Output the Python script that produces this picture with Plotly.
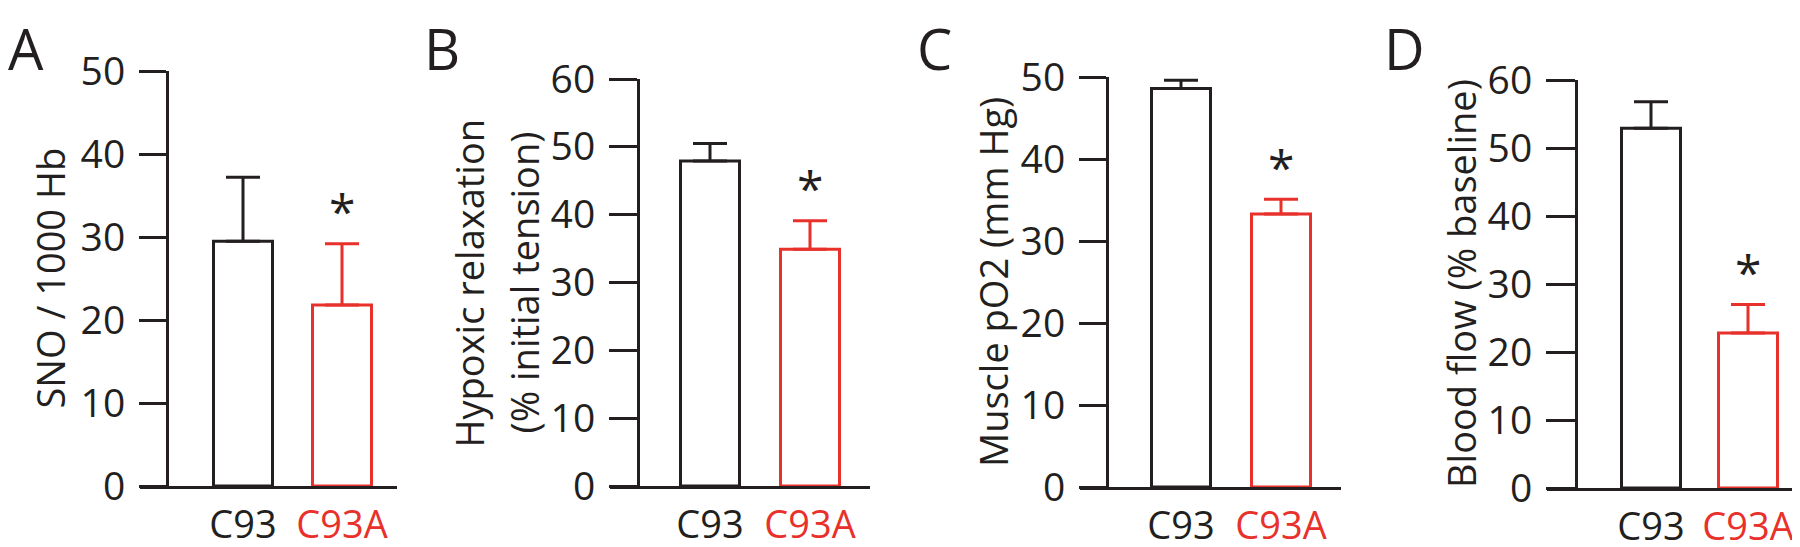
import plotly.graph_objects as go

# data
categories = ["C93", "C93A"]
panel_letters = ["A", "B", "C", "D"]
y_titles = [
    ["SNO / 1000 Hb"],
    ["Hypoxic relaxation", "(% initial tension)"],
    ["Muscle pO2 (mm Hg)"],
    ["Blood flow (% baseline)"],
]
sno_mean = [29.5, 21.8]
sno_sem = [7.7, 7.4]
relax_mean = [47.9, 34.9]
relax_sem = [2.6, 4.2]
po2_mean = [48.6, 33.3]
po2_sem = [1.0, 1.8]
flow_mean = [52.9, 22.8]
flow_sem = [3.9, 4.2]
y_max = [50, 60, 50, 60]
y_tick_step = 10

means = [sno_mean, relax_mean, po2_mean, flow_mean]
sems = [sno_sem, relax_sem, po2_sem, flow_sem]

W, H = 1800, 547
BLACK = "#231f20"
RED = "#e8312b"
FONT = "Open Sans"
bar_colors = [BLACK, RED]

# panel geometry in pixels (tick start, y-axis line, first bar centre, bar spacing, x-axis end, y of 0, y of max)
geo = [
    dict(left=132, axis=159, c0=235, step=99, right=389, y0=478, ytop=63, letter=18, title=[42]),
    dict(left=602, axis=630, c0=702, step=100, right=862, y0=478, ytop=71, letter=434, title=[460, 515]),
    dict(left=1072, axis=1099, c0=1173, step=100, right=1333, y0=479, ytop=69, letter=926, title=[985]),
    dict(left=1539, axis=1568, c0=1643, step=97, right=1798, y0=480, ytop=72, letter=1396, title=[1453]),
]
bar_px = 59

fig = go.Figure()
annotations = []

for i in range(4):
    g = geo[i]
    n = "" if i == 0 else str(i + 1)
    xa, ya = "x" + n, "y" + n
    for j, cat in enumerate(categories):
        fig.add_trace(
            go.Bar(
                x=[cat],
                y=[means[i][j]],
                xaxis=xa,
                yaxis=ya,
                width=bar_px / g["step"],
                marker=dict(color="white", line=dict(color=bar_colors[j], width=3)),
                error_y=dict(
                    type="data",
                    symmetric=False,
                    array=[sems[i][j]],
                    arrayminus=[0],
                    color=bar_colors[j],
                    thickness=3,
                    width=17,
                ),
                showlegend=False,
                hoverinfo="skip",
            )
        )

    # significance star above the C93A error bar
    annotations.append(
        dict(
            x=categories[1],
            y=means[i][1] + sems[i][1],
            xref=xa,
            yref=ya,
            text="*",
            showarrow=False,
            font=dict(family=FONT, size=48, color=BLACK),
            yanchor="middle",
            yshift=33,
        )
    )

    lo = (g["left"] - g["c0"]) / g["step"]
    hi = (g["right"] - g["c0"]) / g["step"]
    fig.update_layout(
        {
            "xaxis" + n: dict(
                domain=[g["left"] / W, g["right"] / W],
                anchor=ya,
                type="category",
                range=[lo, hi],
                showline=True,
                linewidth=3,
                linecolor=BLACK,
                ticks="",
                showgrid=False,
                zeroline=False,
                tickangle=0,
                automargin=False,
                tickvals=categories,
                ticktext=["C93", '<span style="color:%s">C93A</span>' % RED],
                tickfont=dict(family=FONT, size=38, color=BLACK),
                ticklabelstandoff=3,
            ),
            "yaxis" + n: dict(
                domain=[1 - g["y0"] / H, 1 - g["ytop"] / H],
                anchor="free",
                position=g["axis"] / W,
                range=[0, y_max[i]],
                dtick=y_tick_step,
                showline=True,
                linewidth=3,
                linecolor=BLACK,
                ticks="outside",
                ticklen=g["axis"] - g["left"],
                tickwidth=3,
                tickcolor=BLACK,
                showgrid=False,
                zeroline=False,
                automargin=False,
                tickfont=dict(family=FONT, size=39, color=BLACK),
                ticklabelstandoff=6,
            ),
        }
    )

    annotations.append(
        dict(
            x=g["letter"] / W,
            y=1,
            xref="paper",
            yref="paper",
            text=panel_letters[i],
            showarrow=False,
            font=dict(family=FONT, size=56, color=BLACK),
            xanchor="center",
            yanchor="top",
        )
    )
    mid = 1 - (g["y0"] + g["ytop"]) / 2 / H
    for line, tx in zip(y_titles[i], g["title"]):
        annotations.append(
            dict(
                x=tx / W,
                y=mid,
                xref="paper",
                yref="paper",
                text=line,
                textangle=-90,
                showarrow=False,
                font=dict(family=FONT, size=38, color=BLACK),
                xanchor="center",
                yanchor="middle",
            )
        )

fig.update_layout(
    width=W,
    height=H,
    margin=dict(l=0, r=0, t=0, b=0),
    paper_bgcolor="white",
    plot_bgcolor="white",
    barmode="overlay",
    annotations=annotations,
)

fig.write_html("out.html")
